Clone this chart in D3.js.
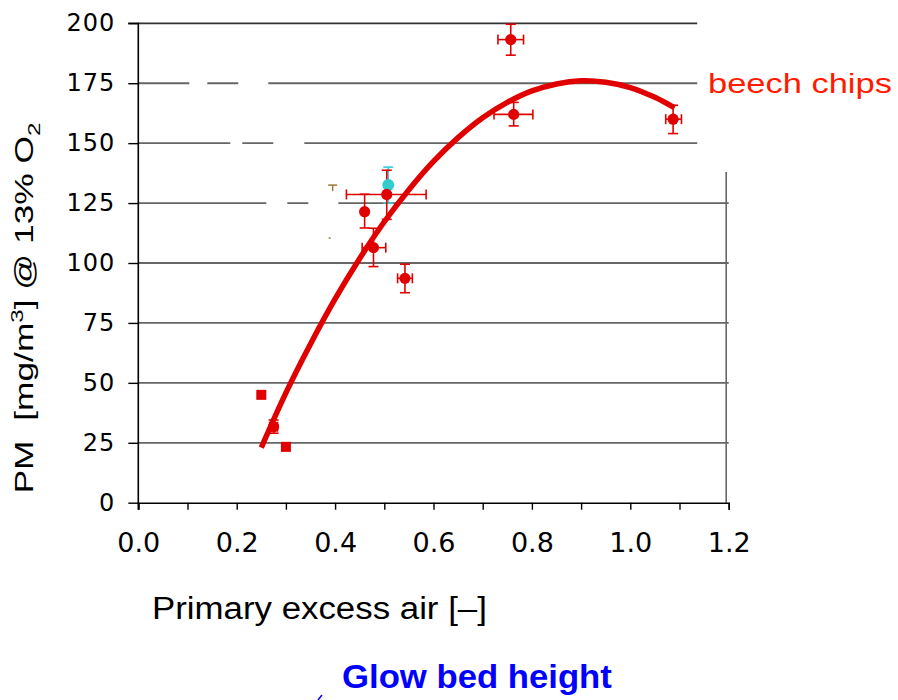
<!DOCTYPE html>
<html>

<head>
    <meta charset="utf-8">
    <style>
        body {
            margin: 0;
            background: white;
        }

        svg {
            display: block;
        }

        .tick text {
            font-family: 'DejaVu Sans', sans-serif;
            fill: #000;
        }

        .label {
            font-family: 'Liberation Sans', Arial, sans-serif;
            white-space: pre;
        }
    </style>
</head>

<body>
    <svg width="898" height="700"></svg>
</body>

<script src="https://d3js.org/d3.v7.min.js"></script>

<script>
    let beechX = [0.275, 0.505, 0.46, 0.478, 0.542, 0.757, 0.763, 1.087]
    let beechY = [31.7, 128.6, 121.4, 106.4, 93.6, 193.2, 162, 160]
    let beechXLo = [0.267, 0.423, null, 0.455, 0.527, 0.731, 0.723, 1.072]
    let beechXHi = [0.283, 0.585, null, 0.503, 0.557, 0.783, 0.802, 1.104]
    let beechYLo = [29, 118.2, 114.6, 98.5, 87.6, 186.7, 157.2, 154]
    let beechYHi = [34.5, 138.7, 128.7, 114.5, 99.5, 199.6, 167, 165.8]

    // square markers (no error bars)
    let squareX = [0.25, 0.30]
    let squareY = [45, 23.3]

    // cyan point
    let cyanX = [0.508]
    let cyanY = [132.5]
    let cyanYLo = [125]
    let cyanYHi = [140]

    // left-over cap of a hidden series
    let ghostX = [0.395]
    let ghostY = [132.5]

    // fitted trend line
    let fitX = [0.25, 0.30, 0.35, 0.40, 0.45, 0.50, 0.55, 0.60, 0.65, 0.70, 0.75, 0.80, 0.85, 0.90, 0.95, 1.00, 1.05, 1.09]
    let fitY = [23, 45.8, 66.2, 85, 101.9, 117.2, 130.6, 142.4, 152.3, 160.6, 167, 171.8, 174.7, 176, 175.4, 173.2, 169.1, 164.7]

    let yTicks = [0, 25, 50, 75, 100, 125, 150, 175, 200]
    let xTicks = [0, 0.1, 0.2, 0.3, 0.4, 0.5, 0.6, 0.7, 0.8, 0.9, 1.0, 1.1, 1.2]

    let svg = d3.select("svg")

    let x = d3.scaleLinear().domain([0, 1.2]).range([138.3, 728.7])
    let y = d3.scaleLinear().domain([0, 200]).range([502.7, 23.3])

    let red = "#e00000"

    // gridlines (upper ones stop short of the label, some have gaps)
    let gridGaps = { 175: "51 18 31 30 2000", 150: "92 12 31 31 2000", 125: "128 21 21 30 2000" }

    svg.append("g")
        .selectAll("line")
        .data(yTicks.filter(d => d > 0))
        .join("line")
        .attr("x1", x(0))
        .attr("x2", d => d >= 150 ? x(1.136) : x(1.2))
        .attr("y1", d => y(d))
        .attr("y2", d => y(d))
        .style("stroke", d => d == 200 ? "#333" : "#666")
        .style("stroke-width", 1.8)
        .style("stroke-dasharray", d => gridGaps[d] || null)

    // right border, only the lower part
    svg.append("line")
        .attr("x1", x(1.2) - 2.5)
        .attr("x2", x(1.2) - 2.5)
        .attr("y1", y(138))
        .attr("y2", y(0))
        .style("stroke", "#666")
        .style("stroke-width", 1.6)

    // axes
    let yAxis = svg.append("g")
        .attr("transform", `translate(${x(0)},0)`)
        .call(d3.axisLeft(y).tickValues(yTicks).tickSize(10).tickPadding(13))
    yAxis.selectAll("text").style("font-size", "24px").style("letter-spacing", "1px")

    let xAxis = svg.append("g")
        .attr("transform", `translate(0,${y(0)})`)
        .call(d3.axisBottom(x).tickValues(xTicks).tickSize(7).tickPadding(23)
            .tickFormat(d => Math.round(d * 10) % 2 == 0 ? d3.format(".1f")(d) : ""))
    xAxis.selectAll("text").style("font-size", "27px")

    svg.selectAll(".domain").style("stroke", "#000").style("stroke-width", 1.6)
    svg.selectAll(".tick line").style("stroke", "#000").style("stroke-width", 1.4)
    yAxis.select(".domain").attr("d", `M-10,${y(200)}H0V${y(0) + 7}`)

    // trend curve
    let line = d3.line()
        .x(d => x(d[0]))
        .y(d => y(d[1]))
        .curve(d3.curveCatmullRom)

    svg.append("path")
        .attr("d", line(fitX.map((d, i) => [d, fitY[i]])))
        .style("fill", "none")
        .style("stroke", red)
        .style("stroke-width", 5.5)

    // error bars
    function errorBars(xs, ys, xlo, xhi, ylo, yhi, color) {
        let g = svg.append("g").style("stroke", color).style("stroke-width", 1.6).style("fill", "none")
        xs.forEach((d, i) => {
            let cx = x(d), cy = y(ys[i])
            if (ylo && ylo[i] != null) {
                g.append("line").attr("x1", cx).attr("x2", cx).attr("y1", y(ylo[i])).attr("y2", y(yhi[i]))
                g.append("line").attr("x1", cx - 5).attr("x2", cx + 5).attr("y1", y(ylo[i])).attr("y2", y(ylo[i]))
                g.append("line").attr("x1", cx - 5).attr("x2", cx + 5).attr("y1", y(yhi[i])).attr("y2", y(yhi[i]))
            }
            if (xlo && xlo[i] != null) {
                g.append("line").attr("x1", x(xlo[i])).attr("x2", x(xhi[i])).attr("y1", cy).attr("y2", cy)
                g.append("line").attr("x1", x(xlo[i])).attr("x2", x(xlo[i])).attr("y1", cy - 5).attr("y2", cy + 5)
                g.append("line").attr("x1", x(xhi[i])).attr("x2", x(xhi[i])).attr("y1", cy - 5).attr("y2", cy + 5)
            }
        })
    }

    errorBars(cyanX, cyanY, null, null, cyanYLo, cyanYHi, "#33ccdd")
    errorBars(beechX, beechY, beechXLo, beechXHi, beechYLo, beechYHi, red)

    svg.append("g")
        .selectAll("circle")
        .data(cyanX)
        .join("circle")
        .attr("cx", d => x(d))
        .attr("cy", (d, i) => y(cyanY[i]))
        .attr("r", 6)
        .style("fill", "#33cccc")

    svg.append("g")
        .selectAll("circle")
        .data(beechX)
        .join("circle")
        .attr("cx", d => x(d))
        .attr("cy", (d, i) => y(beechY[i]))
        .attr("r", 5.6)
        .style("fill", red)

    svg.append("g")
        .selectAll("rect")
        .data(squareX)
        .join("rect")
        .attr("x", d => x(d) - 5)
        .attr("y", (d, i) => y(squareY[i]) - 5)
        .attr("width", 10)
        .attr("height", 10)
        .style("fill", red)

    // small brown cap left over
    ghostX.forEach((d, i) => {
        let g = svg.append("g").style("stroke", "#9a7a3a").style("stroke-width", 1.5)
        g.append("line").attr("x1", x(d) - 4.5).attr("x2", x(d) + 4.5).attr("y1", y(ghostY[i])).attr("y2", y(ghostY[i]))
        g.append("line").attr("x1", x(d)).attr("x2", x(d)).attr("y1", y(ghostY[i])).attr("y2", y(ghostY[i]) + 6)
        g.append("line").attr("x1", x(d) - 4).attr("x2", x(d) - 2).attr("y1", 238).attr("y2", 238)
    })

    // stretch a text element horizontally to a target width
    function fit(sel, w) {
        let cur = sel.node().getComputedTextLength()
        let t = sel.attr("transform") || ""
        sel.attr("transform", t + ` scale(${w / cur},1)`)
    }

    // labels
    let yl = svg.append("text")
        .attr("class", "label")
        .attr("text-anchor", "middle")
        .attr("transform", "translate(33,308) rotate(-90)")
        .style("font-size", "25px")
    yl.append("tspan").text("PM  [mg/m")
    yl.append("tspan").text("3").attr("dy", -10).style("font-size", "17px")
    yl.append("tspan").text("] @ 13% O").attr("dy", 10)
    yl.append("tspan").text("2").attr("dy", 7).style("font-size", "17px")
    fit(yl, 371)

    let xl = svg.append("text")
        .attr("class", "label")
        .attr("transform", "translate(152,619)")
        .style("font-size", "31px")
        .text("Primary excess air [–]")
    fit(xl, 335)

    let bl = svg.append("text")
        .attr("class", "label")
        .attr("transform", "translate(708,93)")
        .style("font-size", "28px")
        .style("fill", "#ff1a00")
        .text("beech chips")
    fit(bl, 184)

    let gl = svg.append("text")
        .attr("class", "label")
        .attr("transform", "translate(342,688)")
        .style("font-size", "34px")
        .style("font-weight", "bold")
        .style("fill", "#0000ff")
        .text("Glow bed height")
    fit(gl, 270)

    svg.append("line")
        .attr("x1", 318).attr("x2", 322).attr("y1", 700).attr("y2", 695)
        .style("stroke", "#0000ff").style("stroke-width", 1.5)

</script>

</html>
